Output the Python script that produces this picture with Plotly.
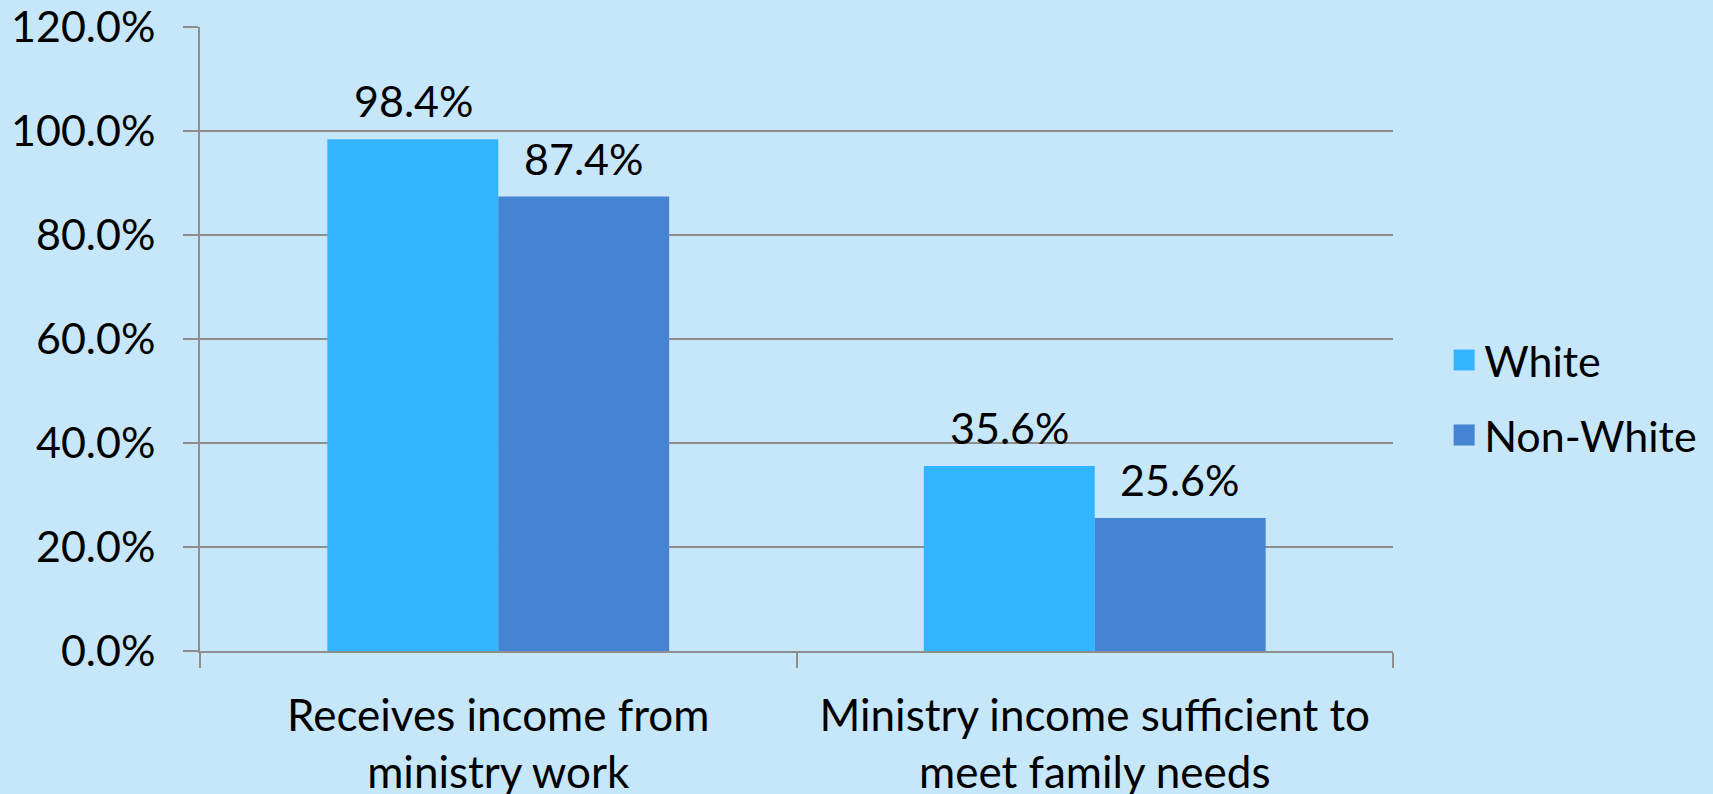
import plotly.graph_objects as go

categories = ["Receives income from<br>ministry work", "Ministry income sufficient to<br>meet family needs"]
series_names = ["White", "Non-White"]
white_vals = [0.984, 0.356]
nonwhite_vals = [0.874, 0.256]
y_ticks = [0, 0.2, 0.4, 0.6, 0.8, 1.0, 1.2]

colors = ["#32B5FF", "#4584D3"]
bg = "#C6E6FA"
grid = "#8E8E8E"
FONT = "Lato"
FS_NUM = 43
FS_CAT = 44
FS_LEG = 43

fig = go.Figure()
for i, (name, vals) in enumerate(zip(series_names, [white_vals, nonwhite_vals])):
    fig.add_trace(go.Bar(
        x=categories, y=vals, name=name, marker=dict(color=colors[i], line=dict(width=0)),
        showlegend=False,
    ))
# legend entries (larger square swatches)
for i, name in enumerate(series_names):
    fig.add_trace(go.Scatter(
        x=[None], y=[None], mode="markers", name=name, legendgroup=name,
        marker=dict(symbol="square", size=16, color=colors[i], line=dict(color=colors[i], width=5)),
        showlegend=True,
    ))

# data labels
half = 85
for i, vals in enumerate([white_vals, nonwhite_vals]):
    for c, v in zip(categories, vals):
        fig.add_annotation(x=c, y=v, text=f"{v*100:.1f}%", showarrow=False,
                           xshift=(-half if i == 0 else half), yshift=11, yanchor="bottom",
                           font=dict(family=FONT, size=FS_NUM, color="black"))

fig.update_layout(
    width=1713, height=794,
    paper_bgcolor=bg, plot_bgcolor=bg,
    margin=dict(l=200, r=319, t=27, b=143),
    barmode="group", bargap=0.427, bargroupgap=0,
    font=dict(family=FONT, size=FS_NUM, color="black"),
    showlegend=True,
    legend=dict(x=1.042, y=0.406, xanchor="left", yanchor="middle",
                font=dict(family=FONT, size=FS_LEG, color="black"),
                bgcolor="rgba(0,0,0,0)", traceorder="grouped", tracegroupgap=16),
    xaxis=dict(showline=True, linecolor=grid, linewidth=2, ticks="outside", tickson="boundaries",
               ticklen=15, tickwidth=2, tickcolor=grid, showgrid=False, automargin=False,
               tickfont=dict(family=FONT, size=FS_CAT, color="black"), ticklabelstandoff=25),
    yaxis=dict(range=[0, 1.2], tickvals=y_ticks, tickformat=".1%", showline=True, linecolor=grid,
               linewidth=2, showgrid=True, gridcolor=grid, gridwidth=2, ticks="outside", ticklen=15,
               tickwidth=2, tickcolor=grid, zeroline=False, ticklabelstandoff=19, automargin=False,
               tickfont=dict(family=FONT, size=FS_NUM, color="black")),
)

fig.write_html("out.html")
